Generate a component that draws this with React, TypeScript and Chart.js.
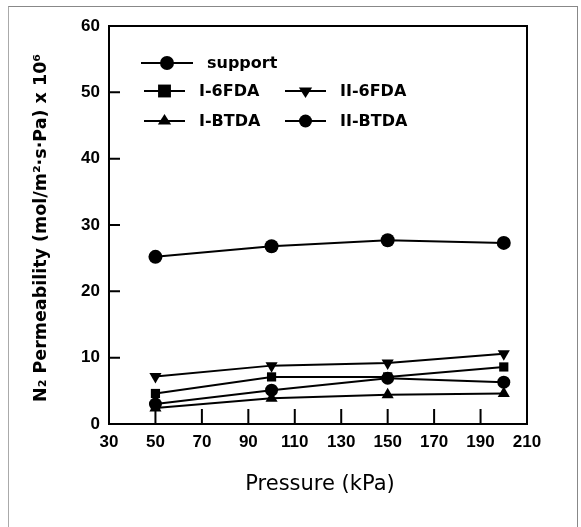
import React, { useEffect, useRef } from "react";
import { Chart, registerables } from "chart.js";

Chart.register(...registerables);

const pressure = [50, 100, 150, 200];
const support = [25.2, 26.8, 27.7, 27.3];
const i6fda = [4.6, 7.1, 7.1, 8.6];
const ii6fda = [7.15, 8.8, 9.2, 10.6];
const ibtda = [2.4, 3.9, 4.4, 4.6];
const iibtda = [3.0, 5.1, 6.9, 6.3];

const xTicks = [30, 50, 70, 90, 110, 130, 150, 170, 190, 210];
const yTicks = [0, 10, 20, 30, 40, 50, 60];
const xInnerTicks = [50, 70, 90, 110, 130, 150, 170, 190];
const yInnerTicks = [10, 20, 30, 40, 50];

const xTitle = "Pressure (kPa)";
const yTitle = "N\u2082 Permeability (mol/m\u00B2\u00B7s\u00B7Pa) x 10\u2076";

type Series = { label: string; values: number[]; style: string; rotation: number; radius: number };
const seriesList: Series[] = [
  { label: "support", values: support, style: "circle", rotation: 0, radius: 7 },
  { label: "I-6FDA", values: i6fda, style: "rect", rotation: 0, radius: 6.5 },
  { label: "II-6FDA", values: ii6fda, style: "triangle", rotation: 180, radius: 7 },
  { label: "I-BTDA", values: ibtda, style: "triangle", rotation: 0, radius: 7 },
  { label: "II-BTDA", values: iibtda, style: "circle", rotation: 0, radius: 6.5 },
];

const FONT = "'Liberation Sans', Arial, sans-serif";
const WIDE = "'DejaVu Sans', sans-serif";

function drawMarker(ctx: CanvasRenderingContext2D, style: string, rotation: number, r: number, x: number, y: number) {
  ctx.save();
  ctx.fillStyle = "#000";
  ctx.translate(x, y);
  ctx.rotate((rotation * Math.PI) / 180);
  ctx.beginPath();
  if (style === "circle") {
    ctx.arc(0, 0, r, 0, Math.PI * 2);
  } else if (style === "rect") {
    const s = r * Math.SQRT1_2 * 1.4;
    ctx.rect(-s, -s, 2 * s, 2 * s);
  } else {
    const h = r * 1.5;
    ctx.moveTo(0, -r);
    ctx.lineTo(r * 0.95, h - r);
    ctx.lineTo(-r * 0.95, h - r);
    ctx.closePath();
  }
  ctx.fill();
  ctx.restore();
}

const decorPlugin = {
  id: "decor",
  beforeDatasetsDraw(chart: any) {
    const { ctx, chartArea: a, scales } = chart;
    ctx.save();
    ctx.strokeStyle = "#000";
    ctx.lineWidth = 2;
    ctx.strokeRect(a.left, a.top, a.right - a.left, a.bottom - a.top);
    ctx.beginPath();
    for (const v of xInnerTicks) {
      const px = scales.x.getPixelForValue(v);
      ctx.moveTo(px, a.bottom);
      ctx.lineTo(px, a.bottom - 15);
    }
    for (const v of yInnerTicks) {
      const py = scales.y.getPixelForValue(v);
      ctx.moveTo(a.left, py);
      ctx.lineTo(a.left + 11, py);
    }
    ctx.stroke();
    ctx.restore();
  },
  afterDraw(chart: any) {
    const { ctx, chartArea: a } = chart;
    ctx.save();
    ctx.fillStyle = "#000";
    ctx.strokeStyle = "#000";
    // axis titles
    ctx.font = `21px ${WIDE}`;
    ctx.textAlign = "center";
    ctx.textBaseline = "middle";
    ctx.fillText(xTitle, (a.left + a.right) / 2 + 2, 485);
    ctx.save();
    ctx.translate(41, 228);
    ctx.rotate(-Math.PI / 2);
    ctx.font = `bold 17.5px ${WIDE}`;
    ctx.fillText(yTitle, 0, 0);
    ctx.restore();
    // legend
    const rows = [
      [0, a.left + 32, a.top + 37, 52],
      [1, a.left + 35, a.top + 65, 41],
      [2, a.left + 176, a.top + 65, 41],
      [3, a.left + 35, a.top + 95, 41],
      [4, a.left + 176, a.top + 95, 41],
    ];
    ctx.font = `bold 16px ${WIDE}`;
    ctx.textAlign = "left";
    for (const [idx, x0, y0, len] of rows) {
      const s = seriesList[idx];
      ctx.lineWidth = 2;
      ctx.beginPath();
      ctx.moveTo(x0, y0);
      ctx.lineTo(x0 + len, y0);
      ctx.stroke();
      drawMarker(ctx, s.style, s.rotation, s.radius, x0 + len / 2, y0);
      ctx.fillText(s.label, x0 + len + 14, y0 + 1);
    }
    ctx.restore();
  },
};

export default function App() {
  const ref = useRef<HTMLCanvasElement>(null);
  useEffect(() => {
    if (!ref.current) return;
    const chart = new Chart(ref.current, {
      type: "line",
      data: {
        datasets: seriesList.map((s) => ({
          label: s.label,
          data: pressure.map((x, i) => ({ x, y: s.values[i] })),
          borderColor: "#000",
          backgroundColor: "#000",
          borderWidth: 2,
          pointStyle: s.style as any,
          pointRotation: s.rotation,
          pointRadius: s.radius,
          pointBorderWidth: 0,
          pointBackgroundColor: "#000",
          tension: 0,
        })),
      },
      options: {
        animation: false,
        responsive: false,
        maintainAspectRatio: false,
        layout: { padding: { left: 0, top: 26, right: 54, bottom: 0 } },
        plugins: { legend: { display: false }, tooltip: { enabled: false } },
        scales: {
          x: {
            type: "linear",
            min: 30,
            max: 210,
            afterBuildTicks: (s: any) => {
              s.ticks = xTicks.map((v) => ({ value: v }));
            },
            afterFit: (s: any) => {
              s.height = 103;
            },
            grid: { display: false, drawTicks: false },
            border: { display: false },
            ticks: { padding: 8, color: "#000", font: { family: FONT, size: 17, weight: "bold" }, maxRotation: 0, autoSkip: false },
          },
          y: {
            type: "linear",
            min: 0,
            max: 60,
            afterBuildTicks: (s: any) => {
              s.ticks = yTicks.map((v) => ({ value: v }));
            },
            afterFit: (s: any) => {
              s.width = 109;
            },
            grid: { display: false, drawTicks: false },
            border: { display: false },
            ticks: { padding: 9, color: "#000", font: { family: FONT, size: 17, weight: "bold" } },
          },
        },
      },
      plugins: [decorPlugin],
    });
    return () => chart.destroy();
  }, []);
  return (
    <div style={{ position: "fixed", left: 0, top: 0, width: 581, height: 527, background: "#fff" }}>
      <div
        style={{
          position: "absolute",
          left: 8,
          top: 6,
          width: 570,
          height: 530,
          borderTop: "1px solid #888",
          borderLeft: "1px solid #aaa",
          borderRight: "1px solid #888",
          boxSizing: "border-box",
        }}
      />
      <canvas ref={ref} width={581} height={527} style={{ position: "absolute", left: 0, top: 0, width: 581, height: 527 }} />
    </div>
  );
}
